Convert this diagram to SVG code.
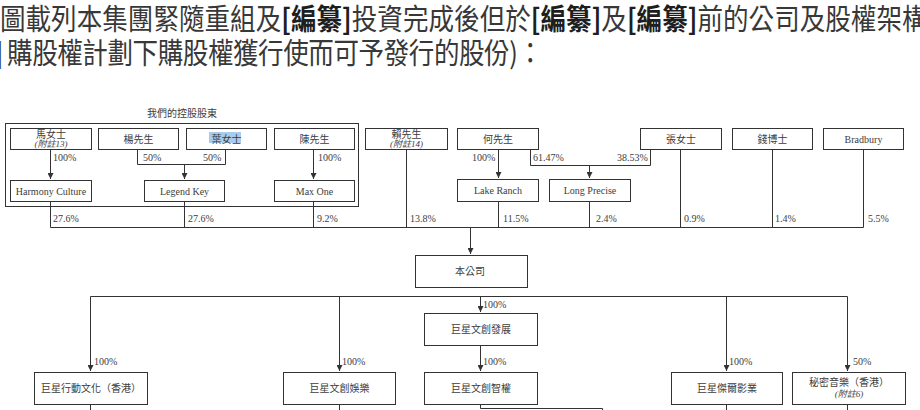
<svg xmlns="http://www.w3.org/2000/svg" width="920" height="410" viewBox="0 0 920 410">
<style>
.bg{fill:#ffffff}
.title{font-family:"Noto Sans CJK TC","Noto Sans CJK SC",sans-serif;font-size:29px;fill:#383838}
.b{font-weight:bold;fill:#1e1e1e}
.box{fill:#ffffff;stroke:#333333;stroke-width:1}
.t{font-family:"Liberation Serif","Noto Sans CJK TC",serif;font-size:10px;fill:#3c3c3c;text-anchor:middle}
.note{font-size:9px;font-style:italic}
.p{font-family:"Liberation Serif","Noto Sans CJK TC",serif;font-size:10px;fill:#3c3c3c}
.ln{fill:none;stroke:#333333;stroke-width:1}
</style>
<defs>
<marker id="arr" markerUnits="userSpaceOnUse" markerWidth="6" markerHeight="6" refX="3" refY="6" orient="0" viewBox="0 0 6 6">
<path d="M0,0 L6,0 L3,6 z" fill="#333333"/>
</marker>
</defs>
<rect class="bg" x="0" y="0" width="920" height="410"/>

<g id="title" transform="scale(0.88,1)">
<text class="title" x="0" y="30" textLength="1054" lengthAdjust="spacing">圖載列本集團緊隨重組及<tspan class="b">[編纂]</tspan>投資完成後但於<tspan class="b">[編纂]</tspan>及<tspan class="b">[編纂]</tspan>前的公司及股權架構</text>
<text class="title" x="-6" y="64">]</text>
<text class="title" x="8" y="64" textLength="609" lengthAdjust="spacing">購股權計劃下購股權獲行使而可予發行的股份)：</text>
</g>

<g id="connectors">
<path class="ln" d="M50.5,149 V179" marker-end="url(#arr)"/>
<path class="ln" d="M137.5,149 V164.5 H225.5 V149"/>
<path class="ln" d="M184.5,164.5 V179" marker-end="url(#arr)"/>
<path class="ln" d="M313.5,149 V179" marker-end="url(#arr)"/>
<path class="ln" d="M50.5,201 V227.5 H863.5"/>
<path class="ln" d="M184.5,201 V227.5"/>
<path class="ln" d="M313.5,201 V227.5"/>
<path class="ln" d="M406.5,149 V227.5"/>
<path class="ln" d="M498.5,201 V227.5"/>
<path class="ln" d="M589.5,201 V227.5"/>
<path class="ln" d="M680.5,149 V227.5"/>
<path class="ln" d="M772.5,149 V227.5"/>
<path class="ln" d="M863.5,149 V227.5"/>
<path class="ln" d="M498.5,149 V178" marker-end="url(#arr)"/>
<path class="ln" d="M530.5,149 V165.5 H650.5 V149"/>
<path class="ln" d="M589.5,165.5 V178" marker-end="url(#arr)"/>
<path class="ln" d="M470.5,227.5 V254" marker-end="url(#arr)"/>
<path class="ln" d="M90.5,296.5 H847.5"/>
<path class="ln" d="M90.5,296.5 V371" marker-end="url(#arr)"/>
<path class="ln" d="M339.5,296.5 V371" marker-end="url(#arr)"/>
<path class="ln" d="M480.5,296.5 V312" marker-end="url(#arr)"/>
<path class="ln" d="M480.5,345 V371" marker-end="url(#arr)"/>
<path class="ln" d="M726.5,296.5 V371" marker-end="url(#arr)"/>
<path class="ln" d="M847.5,296.5 V371" marker-end="url(#arr)"/>
<path class="ln" d="M480.5,404 V408.5 H602.5 V411"/>
<path class="ln" d="M90.5,404 V411"/>
<path class="ln" d="M339.5,404 V411"/>
<path class="ln" d="M726.5,404 V411"/>
<path class="ln" d="M847.5,404 V411"/>
</g>

<g id="controlling-shareholders">
<text class="t" x="182" y="117">我們的控股股東</text>
<rect class="ln" x="5.5" y="123.5" width="353" height="83"/>
</g>

<g id="ms-ma"><rect class="box" x="10.5" y="128.5" width="81" height="21"/><text class="t" x="51" y="137.5">馬女士</text><text class="t note" x="51" y="146.5">(附註13)</text></g>
<g id="mr-yang"><rect class="box" x="98.5" y="128.5" width="80" height="21"/><text class="t" x="138.5" y="142.5">楊先生</text></g>
<g id="ms-ye"><rect class="box" x="186.5" y="128.5" width="80" height="21"/><rect x="209" y="132" width="32" height="11" fill="#a9cbec"/><text class="t" x="226.5" y="142.5">葉女士</text></g>
<g id="mr-chen"><rect class="box" x="274.5" y="128.5" width="80" height="21"/><text class="t" x="314.5" y="142.5">陳先生</text></g>
<g id="harmony-culture"><rect class="box" x="10.5" y="180.5" width="81" height="21"/><text class="t" x="51" y="194.5">Harmony Culture</text></g>
<g id="legend-key"><rect class="box" x="144.5" y="180.5" width="80" height="21"/><text class="t" x="184.5" y="194.5">Legend Key</text></g>
<g id="max-one"><rect class="box" x="274.5" y="180.5" width="80" height="21"/><text class="t" x="314.5" y="194.5">Max One</text></g>

<g id="mr-lai"><rect class="box" x="365.5" y="128.5" width="82" height="21"/><text class="t" x="406.5" y="137.5">賴先生</text><text class="t note" x="406.5" y="146.5">(附註14)</text></g>
<g id="mr-he"><rect class="box" x="457.5" y="128.5" width="81" height="21"/><text class="t" x="498" y="142.5">何先生</text></g>
<g id="lake-ranch"><rect class="box" x="457.5" y="179.5" width="81" height="22"/><text class="t" x="498" y="194">Lake Ranch</text></g>
<g id="long-precise"><rect class="box" x="549.5" y="179.5" width="81" height="22"/><text class="t" x="590" y="194">Long Precise</text></g>
<g id="ms-zhang"><rect class="box" x="640.5" y="128.5" width="81" height="21"/><text class="t" x="681" y="142.5">張女士</text></g>
<g id="dr-qian"><rect class="box" x="732.5" y="128.5" width="80" height="21"/><text class="t" x="772.5" y="142.5">錢博士</text></g>
<g id="bradbury"><rect class="box" x="823.5" y="128.5" width="80" height="21"/><text class="t" x="863.5" y="142.5">Bradbury</text></g>

<g id="company"><rect class="box" x="415.5" y="255.5" width="112" height="32"/><text class="t" x="470" y="275">本公司</text></g>
<g id="jx-dev"><rect class="box" x="424.5" y="313.5" width="113" height="32"/><text class="t" x="481" y="333">巨星文創發展</text></g>
<g id="jx-action-hk"><rect class="box" x="34.5" y="372.5" width="113" height="32"/><text class="t" x="91" y="392">巨星行動文化（香港）</text></g>
<g id="jx-ent"><rect class="box" x="283.5" y="372.5" width="112" height="32"/><text class="t" x="339.5" y="392">巨星文創娛樂</text></g>
<g id="jx-ip"><rect class="box" x="424.5" y="372.5" width="113" height="32"/><text class="t" x="481" y="392">巨星文創智權</text></g>
<g id="jx-jieer"><rect class="box" x="671.5" y="372.5" width="111" height="32"/><text class="t" x="727" y="392">巨星傑爾影業</text></g>
<g id="secret-music-hk"><rect class="box" x="792.5" y="372.5" width="113" height="32"/><text class="t" x="849" y="386">秘密音樂（香港）</text><text class="t note" x="849" y="396.5">(附註6)</text></g>

<g id="percent-labels">
<text class="p" x="53" y="161">100%</text>
<text class="p" x="143" y="161">50%</text>
<text class="p" x="203" y="161">50%</text>
<text class="p" x="318" y="161">100%</text>
<text class="p" x="472" y="161">100%</text>
<text class="p" x="533" y="161">61.47%</text>
<text class="p" x="617" y="161">38.53%</text>
<text class="p" x="53" y="222">27.6%</text>
<text class="p" x="188" y="222">27.6%</text>
<text class="p" x="317" y="222">9.2%</text>
<text class="p" x="410" y="222">13.8%</text>
<text class="p" x="503" y="222">11.5%</text>
<text class="p" x="596" y="222">2.4%</text>
<text class="p" x="684" y="222">0.9%</text>
<text class="p" x="775" y="222">1.4%</text>
<text class="p" x="868" y="222">5.5%</text>
<text class="p" x="483" y="308">100%</text>
<text class="p" x="94" y="365">100%</text>
<text class="p" x="342" y="365">100%</text>
<text class="p" x="483" y="365">100%</text>
<text class="p" x="729" y="365">100%</text>
<text class="p" x="853" y="365">50%</text>
</g>
</svg>
